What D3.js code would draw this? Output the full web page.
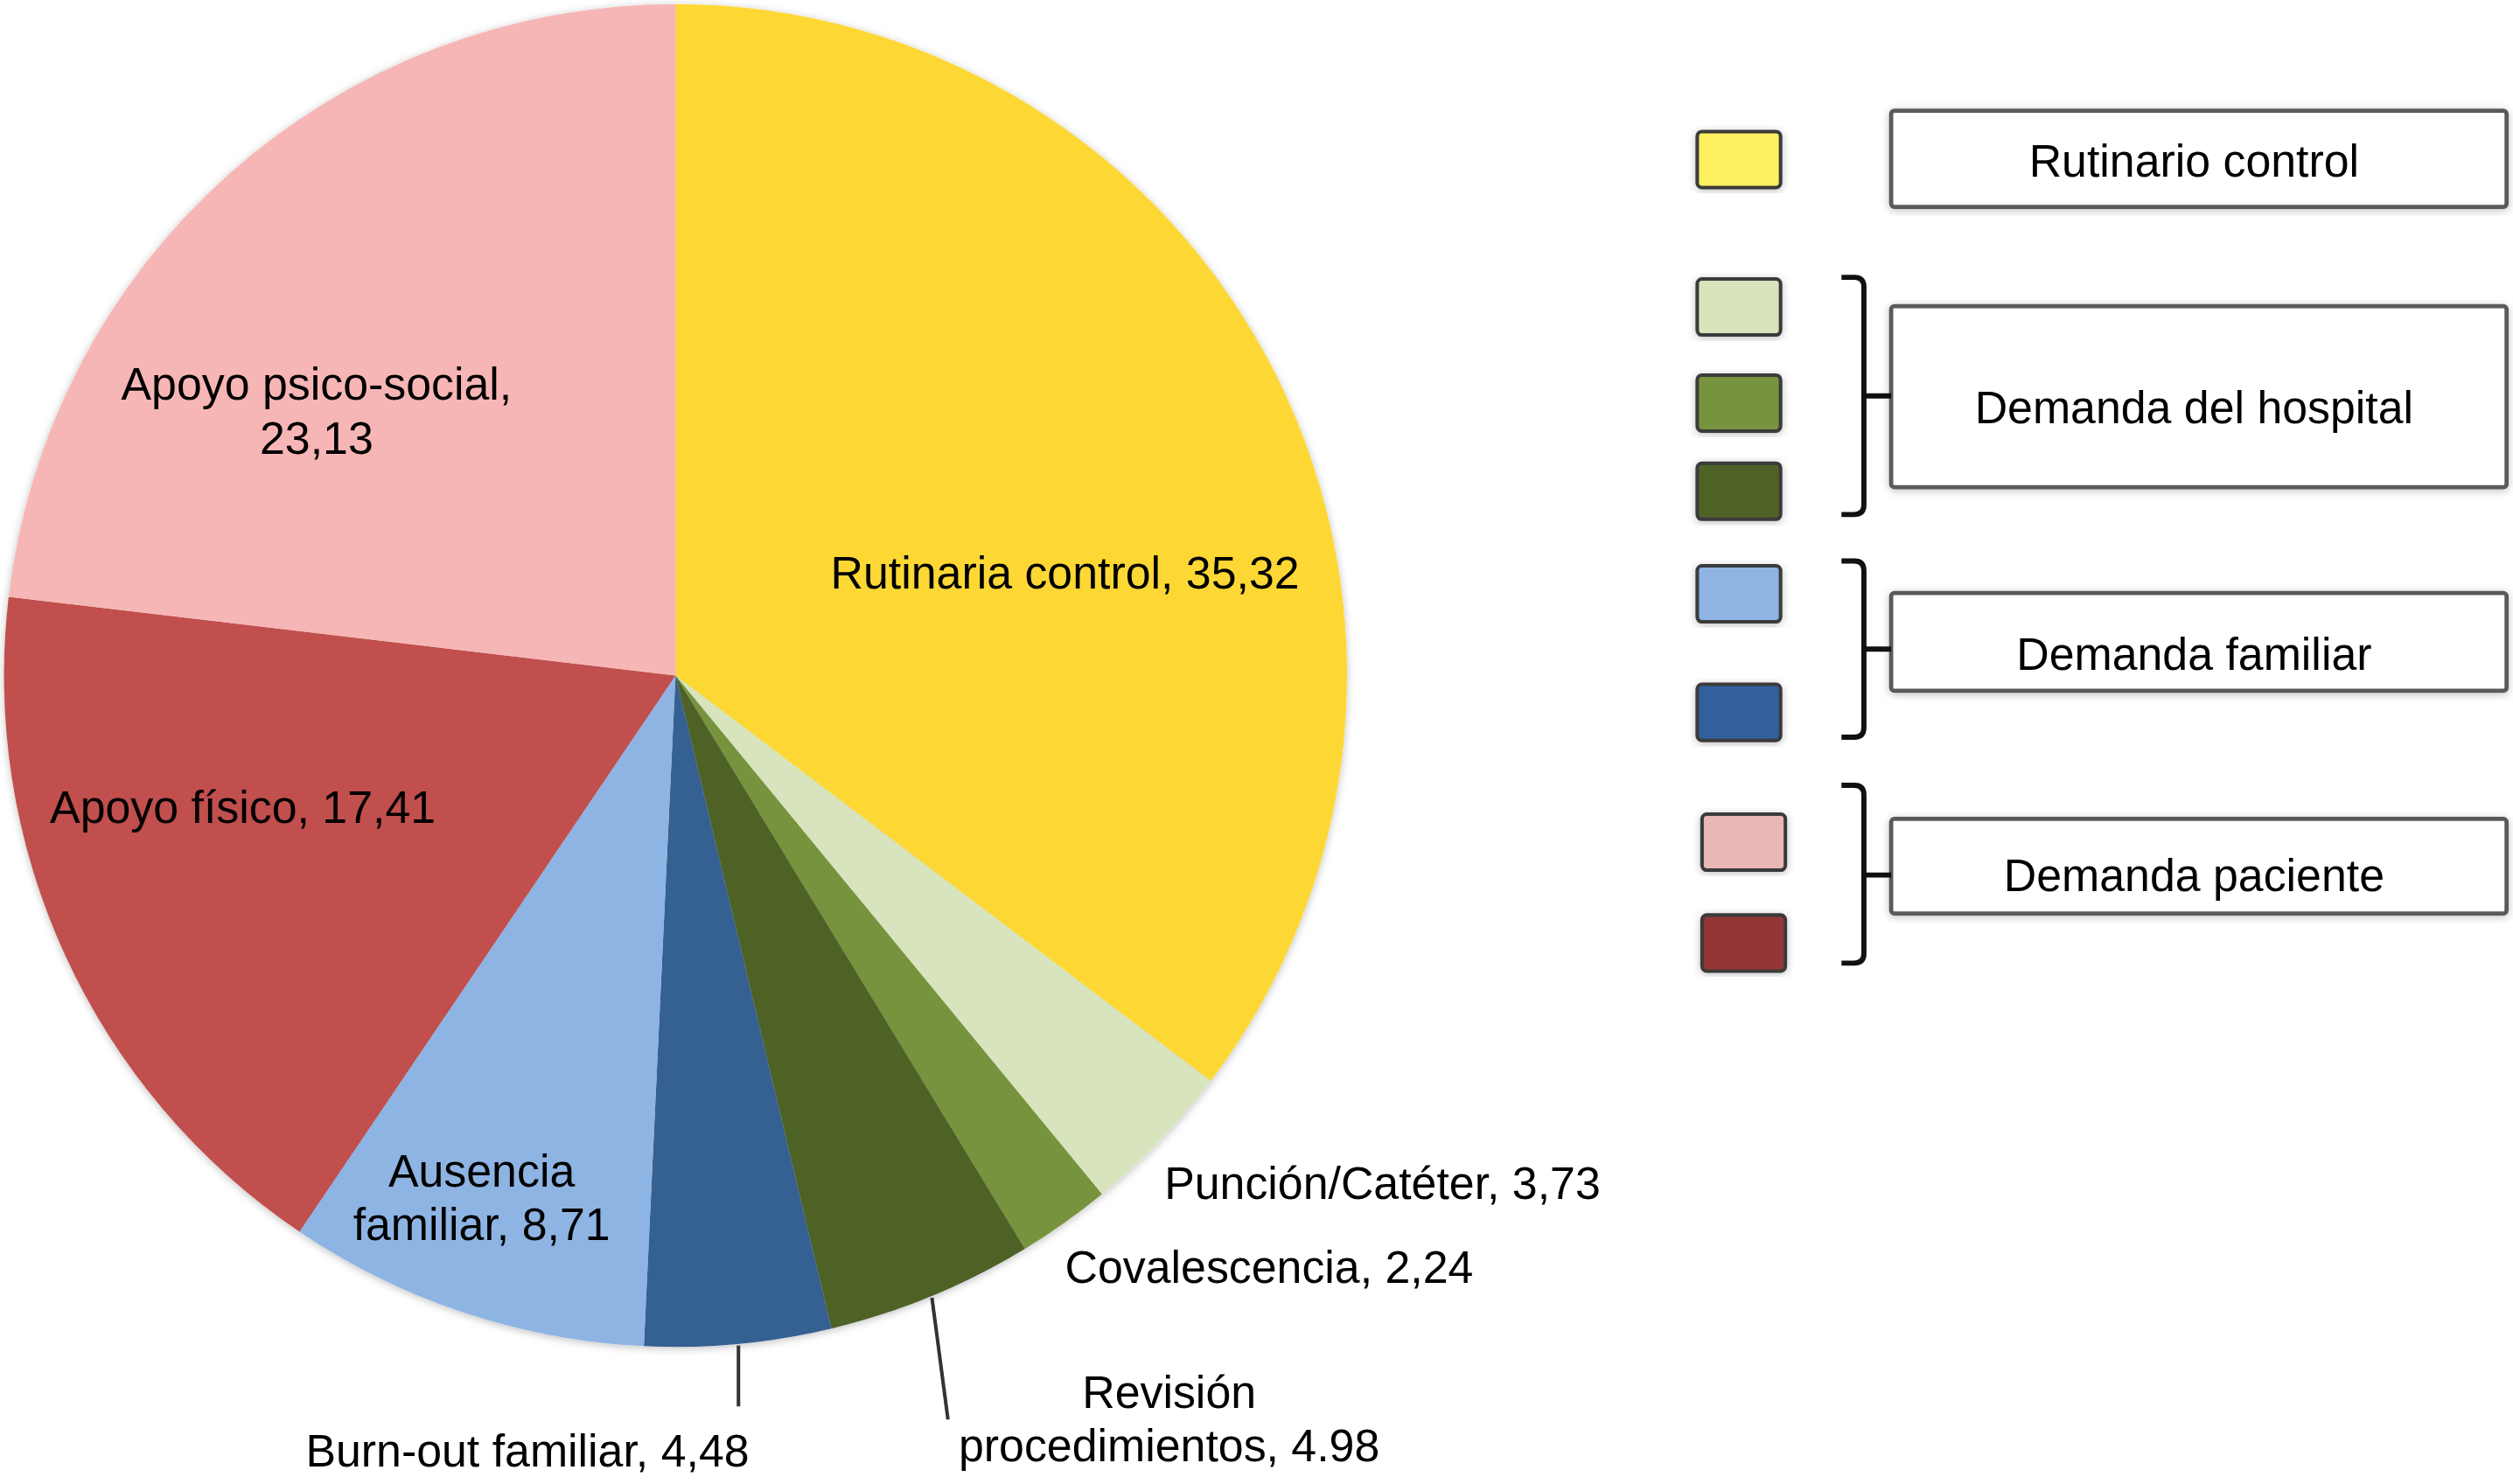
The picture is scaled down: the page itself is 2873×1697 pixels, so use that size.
<!DOCTYPE html>
<html>
<head>
<meta charset="utf-8">
<script src="https://cdn.jsdelivr.net/npm/d3@7"></script>
<style>
  html, body { margin: 0; padding: 0; background: #fff; }
  svg { display: block; }
  text { font-family: "Liberation Sans", Arial, Helvetica, sans-serif; fill: #000; }
</style>
</head>
<body>
<script>
// slices, clockwise from 12 o'clock
const categories = ["Rutinaria control", "Punción/Catéter", "Covalescencia", "Revisión procedimientos",
                    "Burn-out familiar", "Ausencia familiar", "Apoyo físico", "Apoyo psico-social"];
const values = [35.32, 3.73, 2.24, 4.98, 4.48, 8.71, 17.41, 23.13];
const valueLabels = ["35,32", "3,73", "2,24", "4.98", "4,48", "8,71", "17,41", "23,13"];
const sliceColors = ["#FDD835", "#D7E4BD", "#77933C", "#4F6228", "#366092", "#8EB4E3", "#C0504D", "url(#pinkGrad)"];

// legend
const legendGroups = ["Rutinario control", "Demanda del hospital", "Demanda familiar", "Demanda paciente"];
const legendGroupSizes = [1, 3, 2, 2];
const legendColors = ["#FDF05E", "#D8E4BC", "#77933C", "#4F6228", "#8DB4E2", "#30609C", "#E8B7B7", "#963634"];

// page is drawn in a 1568x926 frame, scaled up to the window
const W = 1568, H = 926;
const cx = 421.5, cy = 421.5, R = 419;
const fontSize = 28.3;

const svg = d3.select("body").append("svg")
    .attr("width", 2873)
    .attr("height", 1697)
    .attr("viewBox", `0 0 ${W} ${H}`);

const defs = svg.append("defs");
const pg = defs.append("linearGradient")
    .attr("id", "pinkGrad")
    .attr("gradientUnits", "userSpaceOnUse")
    .attr("x1", 0).attr("y1", cy - R)
    .attr("x2", 0).attr("y2", cy);
pg.append("stop").attr("offset", 0).attr("stop-color", "#F7B6B6");
pg.append("stop").attr("offset", 1).attr("stop-color", "#DF8B8B");

const shadow = defs.append("filter").attr("id", "soft")
    .attr("x", "-10%").attr("y", "-10%").attr("width", "120%").attr("height", "120%");
shadow.append("feDropShadow")
    .attr("dx", 0).attr("dy", 1).attr("stdDeviation", 2.5)
    .attr("flood-color", "#000").attr("flood-opacity", 0.25);

const pie = d3.pie().sort(null).value(d => d);
const arcs = pie(values);
const arc = d3.arc().innerRadius(0).outerRadius(R);

const g = svg.append("g").attr("transform", `translate(${cx},${cy})`);

g.append("g")
    .attr("filter", "url(#soft)")
  .selectAll("path")
  .data(arcs)
  .join("path")
    .attr("d", arc)
    .attr("fill", (d, i) => sliceColors[i]);

// label placement (relative to pie centre), lines of text per slice
const labelLayout = [
  { x: 243, y: -64, anchor: "middle", lines: d => [`${categories[0]}, ${valueLabels[0]}`] },
  { x: 305, y: 317, anchor: "start", lines: d => [`${categories[1]}, ${valueLabels[1]}`] },
  { x: 243, y: 369, anchor: "start", lines: d => [`${categories[2]}, ${valueLabels[2]}`] },
  { x: 308, y: 447, anchor: "middle", lines: d => ["Revisión", `procedimientos, ${valueLabels[3]}`] },
  { x: 46, y: 484, anchor: "end", lines: d => [`${categories[4]}, ${valueLabels[4]}`] },
  { x: -121, y: 309, anchor: "middle", lines: d => ["Ausencia", `familiar, ${valueLabels[5]}`] },
  { x: -270, y: 82, anchor: "middle", lines: d => [`${categories[6]}, ${valueLabels[6]}`] },
  { x: -224, y: -182, anchor: "middle", lines: d => ["Apoyo psico-social,", valueLabels[7]] }
];
const lineGap = 33.5;

const labels = g.append("g").attr("font-size", fontSize);
arcs.forEach((a, i) => {
  const L = labelLayout[i];
  const t = labels.append("text")
      .attr("text-anchor", L.anchor)
      .attr("transform", `translate(${L.x},${L.y})`);
  L.lines(a).forEach((s, k) => {
    t.append("tspan").attr("x", 0).attr("y", k * lineGap).attr("dy", "0.35em").text(s);
  });
});

// leader lines for Revisión and Burn-out, starting on the arc at the slice mid angle
const leaders = [
  { index: 3, dx: 10, dy: 76 },
  { index: 4, dx: 0, dy: 38 }
];
leaders.forEach(l => {
  const a = arcs[l.index];
  const m = (a.startAngle + a.endAngle) / 2;
  const x0 = Math.sin(m) * (R + 1), y0 = -Math.cos(m) * (R + 1);
  g.append("line")
      .attr("x1", x0).attr("y1", y0)
      .attr("x2", x0 + l.dx).attr("y2", y0 + l.dy)
      .attr("stroke", "#333")
      .attr("stroke-width", 2.2);
});

// ---- legend ----
const swatchX = 1059, swatchW = 52, swatchH = 35;
const swatchTops = [82, 174, 234, 289, 353, 427, 508, 571];
const swatchShift = [0, 0, 0, 0, 0, 0, 3, 3];
const boxX = 1180, boxW = 384;
const boxes = [[69, 129], [191, 304], [370, 431], [511, 570]];
const boxTextY = [100, 254, 408, 546];
const brackets = [null, [173, 321, 247], [350, 460, 405], [490, 601, 546]];

const lg = svg.append("g");

let k = 0;
legendGroupSizes.forEach((n, gi) => {
  for (let j = 0; j < n; j++, k++) {
    lg.append("rect")
        .attr("x", swatchX + swatchShift[k]).attr("y", swatchTops[k])
        .attr("width", swatchW).attr("height", swatchH)
        .attr("rx", 3)
        .attr("fill", legendColors[k])
        .attr("stroke", "#3a3a3a")
        .attr("stroke-width", 2.2)
        .attr("filter", "url(#soft)");
  }
  const [y0, y1] = boxes[gi];
  lg.append("rect")
      .attr("x", boxX).attr("y", y0)
      .attr("width", boxW).attr("height", y1 - y0)
      .attr("rx", 2)
      .attr("fill", "#fff")
      .attr("stroke", "#5a5a5a")
      .attr("stroke-width", 2.6)
      .attr("filter", "url(#soft)");
  lg.append("text")
      .attr("x", boxX + boxW / 2 - 3)
      .attr("y", boxTextY[gi])
      .attr("dy", "0.35em")
      .attr("text-anchor", "middle")
      .attr("font-size", fontSize)
      .text(legendGroups[gi]);

  const b = brackets[gi];
  if (b) {
    const [t, bt, mid] = b;
    const xl = 1149, xv = 1163, r = 6;
    lg.append("path")
        .attr("d", `M${xl},${t} H${xv - r} Q${xv},${t} ${xv},${t + r} V${bt - r} Q${xv},${bt} ${xv - r},${bt} H${xl}
                    M${xv},${mid} H${boxX}`)
        .attr("fill", "none")
        .attr("stroke", "#111")
        .attr("stroke-width", 3.2);
  }
});
</script>
</body>
</html>
